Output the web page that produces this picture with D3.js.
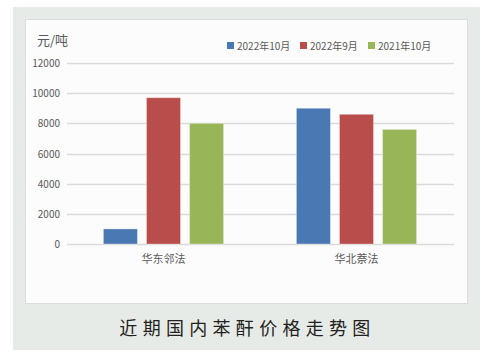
<!DOCTYPE html>
<html><head><meta charset="utf-8">
<script src="https://cdn.jsdelivr.net/npm/d3@7"></script>
<style>html,body{margin:0;padding:0;background:#fff;}svg{display:block;}</style>
</head><body>
<script>
const categories = ["华东邻法", "华北萘法"];
const seriesNames = ["2022年10月", "2022年9月", "2021年10月"];
const values2022Oct = [1000, 9000];
const values2022Sep = [9700, 8600];
const values2021Oct = [8000, 7600];
const yTicks = [0, 2000, 4000, 6000, 8000, 10000, 12000];
const colors = ["#4a78b3", "#b84d4b", "#98b558"];
const unitLabel = "元/吨";
const title = "近期国内苯酐价格走势图";

const seriesValues = [values2022Oct, values2022Sep, values2021Oct];
const W = 490, H = 362;
const svg = d3.select("body").append("svg").attr("width", W).attr("height", H);
const font = "'Noto Sans CJK SC', 'Noto Sans', sans-serif";

// outer panel
svg.append("rect").attr("x", 13).attr("y", 7).attr("width", 467).attr("height", 343).attr("fill", "#e7ebe7");
// inner chart box
svg.append("rect").attr("x", 25.5).attr("y", 19.5).attr("width", 442).attr("height", 284)
  .attr("fill", "#fcfcfc").attr("stroke", "#dcdcdc").attr("stroke-width", 1);

const x0 = d3.scaleBand().domain(categories).range([67, 453]);
const x1 = d3.scaleBand().domain(d3.range(3)).range([0, x0.bandwidth()]).paddingInner(0.21).paddingOuter(0.845);
const y = d3.scaleLinear().domain([0, 12000]).range([244, 63]);

// gridlines
svg.append("g").selectAll("line").data(yTicks).join("line")
  .attr("x1", 67).attr("x2", 454).attr("y1", d => Math.round(y(d)) + 0.5).attr("y2", d => Math.round(y(d)) + 0.5)
  .attr("stroke", "#dadada").attr("stroke-width", 1.3);

// y tick labels
svg.append("g").selectAll("text").data(yTicks).join("text")
  .attr("x", 60).attr("y", d => y(d) + 4).attr("text-anchor", "end")
  .attr("font-family", font).attr("font-size", 10).attr("fill", "#595959").text(d => d);

// bars
const groups = svg.append("g").selectAll("g").data(categories).join("g")
  .attr("transform", c => `translate(${x0(c)},0)`);
groups.selectAll("rect").data((c, ci) => seriesValues.map((s, si) => ({si, v: s[ci]}))).join("rect")
  .attr("x", d => x1(d.si)).attr("width", x1.bandwidth())
  .attr("y", d => y(d.v)).attr("height", d => y(0) - y(d.v))
  .attr("fill", d => colors[d.si]).attr("stroke", "rgba(255,255,255,0.35)").attr("stroke-width", 1);

// category labels
svg.append("g").selectAll("text").data(categories).join("text")
  .attr("x", c => x0(c) + x0.bandwidth() / 2).attr("y", 263).attr("text-anchor", "middle")
  .attr("font-family", font).attr("font-size", 11).attr("fill", "#595959").text(c => c);

// unit label
svg.append("text").attr("x", 37).attr("y", 45).attr("font-family", font).attr("font-size", 13)
  .attr("fill", "#595959").text(unitLabel);

// legend
const legendX = [227, 300, 368];
const lg = svg.append("g").selectAll("g").data(seriesNames).join("g")
  .attr("transform", (d, i) => `translate(${legendX[i]},42)`);
lg.append("rect").attr("width", 7).attr("height", 7).attr("fill", (d, i) => colors[i]);
lg.append("text").attr("x", 10).attr("y", 7.5).attr("font-family", font).attr("font-size", 10)
  .attr("fill", "#595959").text(d => d);

// title
svg.append("text").attr("x", 247.5).attr("y", 335).attr("text-anchor", "middle")
  .attr("font-family", font).attr("font-size", 18).attr("letter-spacing", 5.3)
  .attr("fill", "#231f20").text(title);
</script>
</body></html>
